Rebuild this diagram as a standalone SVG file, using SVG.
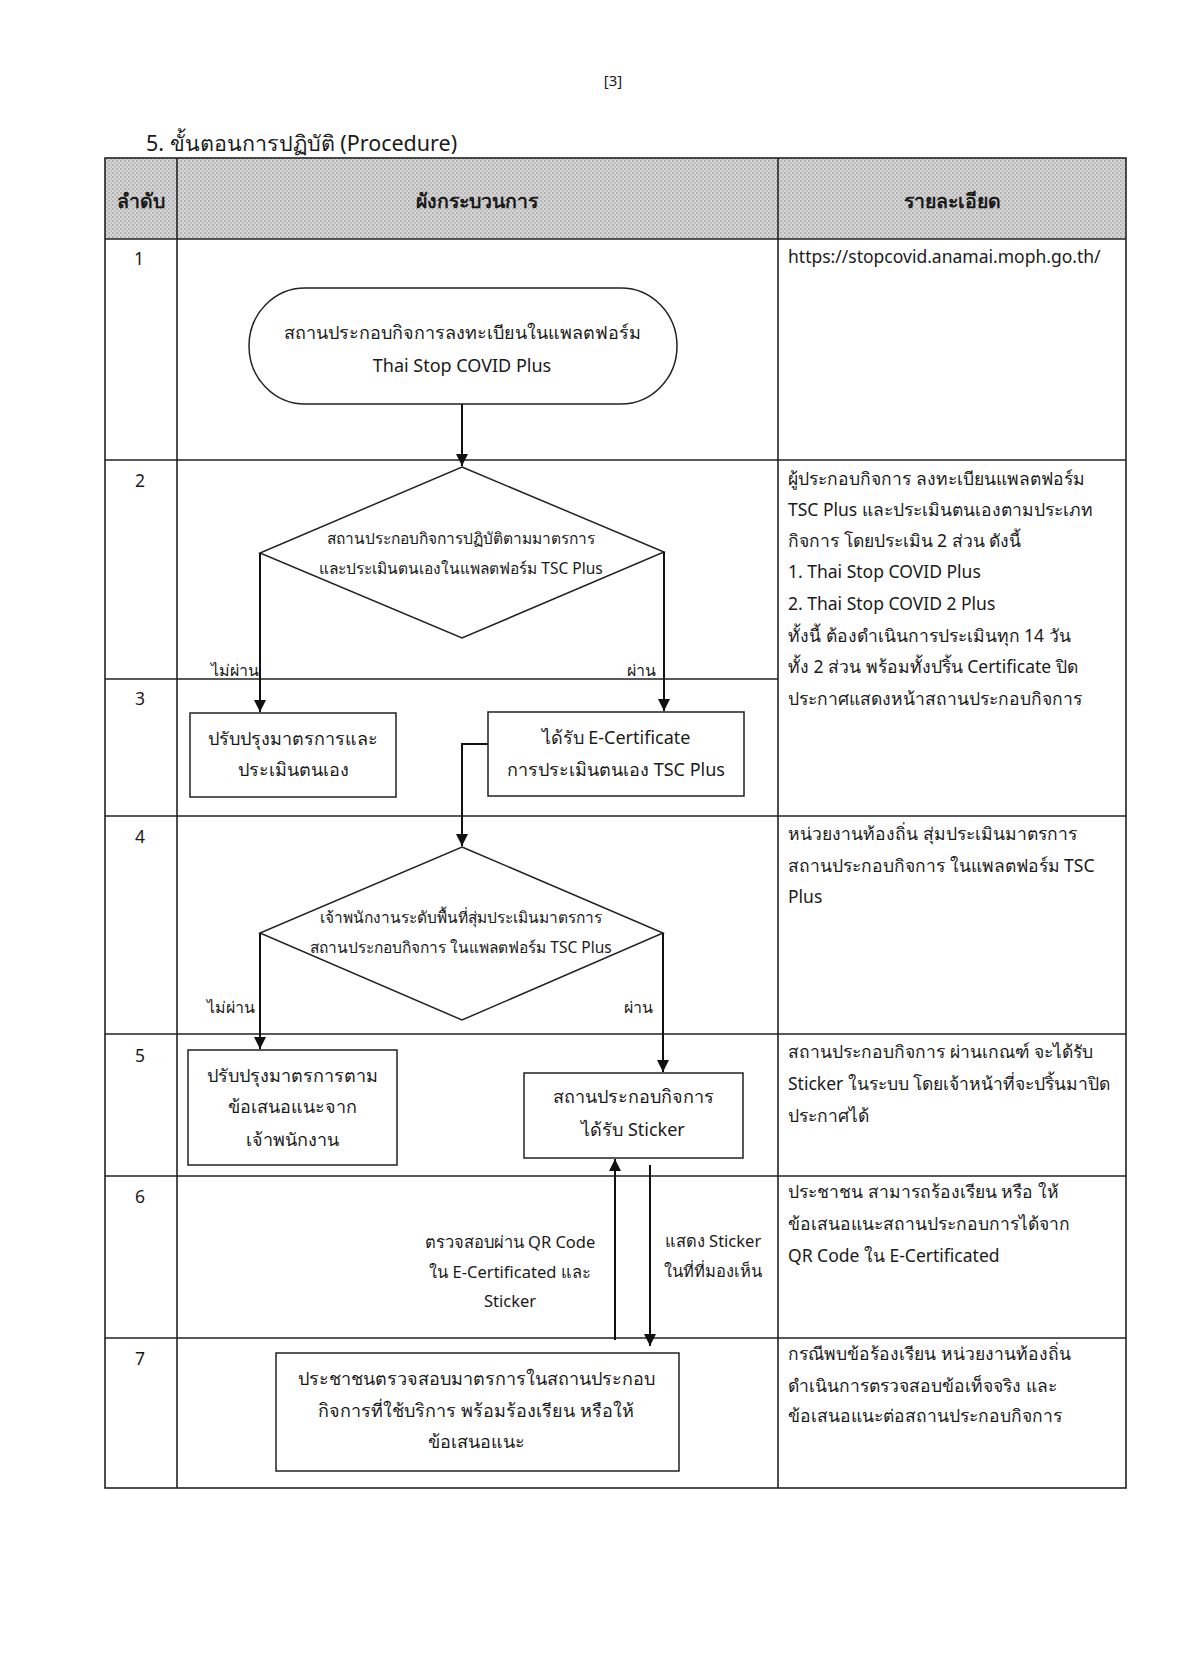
<svg xmlns="http://www.w3.org/2000/svg" width="1194" height="1678" viewBox="0 0 1194 1678">
<style>
text{font-family:"Noto Sans","DejaVu Sans",sans-serif;fill:#1a1a1a}
.t{font-size:17.5px}
.b{font-size:18px;text-anchor:middle}
.d{font-size:15.5px;text-anchor:middle}
.l{font-size:16px}
.lb{font-size:16.5px;text-anchor:middle}
.h{font-size:19.5px;font-weight:bold;text-anchor:middle}
.n{font-size:17.5px;text-anchor:middle}
.grid{stroke:#222;stroke-width:1.6;fill:none}
.shape{stroke:#222;stroke-width:1.5;fill:#fff}
.con{stroke:#111;stroke-width:2;fill:none}
</style>
<defs>
<pattern id="halftone" width="4" height="4" patternUnits="userSpaceOnUse">
<rect width="4" height="4" fill="#d6d6d6"/>
<rect width="2" height="2" fill="#b4b4b4"/>
<rect x="2" y="2" width="2" height="2" fill="#c0c0c0"/>
</pattern>
<marker id="arr" viewBox="0 0 10 10" refX="10" refY="5" markerWidth="6" markerHeight="6" orient="auto" markerUnits="strokeWidth">
<path d="M0,0 L10,5 L0,10 z" fill="#111"/>
</marker>
</defs>
<rect width="1194" height="1678" fill="#fff"/>
<text x="613" y="86" style="font-size:15px" text-anchor="middle">[3]</text>
<text x="146" y="151" style="font-size:21.5px">5. ขั้นตอนการปฏิบัติ (Procedure)</text>

<g id="table">
<rect x="105" y="158" width="1021" height="81" fill="url(#halftone)"/>
<rect x="105" y="158" width="1021" height="1330" class="grid"/>
<line x1="177" y1="158" x2="177" y2="1488" class="grid"/>
<line x1="778" y1="158" x2="778" y2="1488" class="grid"/>
<line x1="105" y1="239" x2="1126" y2="239" class="grid"/>
<line x1="105" y1="460" x2="1126" y2="460" class="grid"/>
<line x1="105" y1="679" x2="778" y2="679" class="grid"/>
<line x1="105" y1="816" x2="1126" y2="816" class="grid"/>
<line x1="105" y1="1034" x2="1126" y2="1034" class="grid"/>
<line x1="105" y1="1176" x2="1126" y2="1176" class="grid"/>
<line x1="105" y1="1338" x2="1126" y2="1338" class="grid"/>
<text x="141" y="208" class="h">ลำดับ</text>
<text x="477" y="208" class="h">ผังกระบวนการ</text>
<text x="952" y="208" class="h">รายละเอียด</text>
<text x="139" y="265" class="n">1</text>
<text x="140" y="487" class="n">2</text>
<text x="140" y="705" class="n">3</text>
<text x="140" y="843" class="n">4</text>
<text x="140" y="1062" class="n">5</text>
<text x="140" y="1203" class="n">6</text>
<text x="140" y="1365" class="n">7</text>
</g>

<g id="details">
<text x="788" y="263" class="t">https://stopcovid.anamai.moph.go.th/</text>
<text x="788" y="485" class="t">ผู้ประกอบกิจการ ลงทะเบียนแพลตฟอร์ม</text>
<text x="788" y="516" class="t">TSC Plus และประเมินตนเองตามประเภท</text>
<text x="788" y="547" class="t">กิจการ โดยประเมิน 2 ส่วน ดังนี้</text>
<text x="788" y="578" class="t">1. Thai Stop COVID Plus</text>
<text x="788" y="610" class="t">2. Thai Stop COVID 2 Plus</text>
<text x="788" y="642" class="t">ทั้งนี้ ต้องดำเนินการประเมินทุก 14 วัน</text>
<text x="788" y="673" class="t">ทั้ง 2 ส่วน พร้อมทั้งปริ้น Certificate ปิด</text>
<text x="788" y="705" class="t">ประกาศแสดงหน้าสถานประกอบกิจการ</text>
<text x="788" y="840" class="t">หน่วยงานท้องถิ่น สุ่มประเมินมาตรการ</text>
<text x="788" y="872" class="t">สถานประกอบกิจการ ในแพลตฟอร์ม TSC</text>
<text x="788" y="903" class="t">Plus</text>
<text x="788" y="1058" class="t">สถานประกอบกิจการ ผ่านเกณฑ์ จะได้รับ</text>
<text x="788" y="1090" class="t">Sticker ในระบบ โดยเจ้าหน้าที่จะปริ้นมาปิด</text>
<text x="788" y="1122" class="t">ประกาศได้</text>
<text x="788" y="1198" class="t">ประชาชน สามารถร้องเรียน หรือ ให้</text>
<text x="788" y="1230" class="t">ข้อเสนอแนะสถานประกอบการได้จาก</text>
<text x="788" y="1262" class="t">QR Code ใน E-Certificated</text>
<text x="788" y="1360" class="t">กรณีพบข้อร้องเรียน หน่วยงานท้องถิ่น</text>
<text x="788" y="1392" class="t">ดำเนินการตรวจสอบข้อเท็จจริง และ</text>
<text x="788" y="1422" class="t">ข้อเสนอแนะต่อสถานประกอบกิจการ</text>
</g>

<g id="n1_start">
<rect x="249" y="288" width="428" height="116" rx="56" ry="58" class="shape"/>
<text x="462" y="339" class="b">สถานประกอบกิจการลงทะเบียนในแพลตฟอร์ม</text>
<text x="462" y="372" class="b">Thai Stop COVID Plus</text>
</g>
<g id="n2_decision">
<polygon points="462,467 664,552 462,638 260,553" class="shape"/>
<text x="461" y="544" class="d">สถานประกอบกิจการปฏิบัติตามมาตรการ</text>
<text x="461" y="574" class="d">และประเมินตนเองในแพลตฟอร์ม TSC Plus</text>
</g>
<g id="n3_improve">
<rect x="190" y="713" width="206" height="84" class="shape"/>
<text x="293" y="745" class="b">ปรับปรุงมาตรการและ</text>
<text x="293" y="776" class="b">ประเมินตนเอง</text>
</g>
<g id="n3_cert">
<rect x="488" y="712" width="256" height="84" class="shape"/>
<text x="616" y="744" class="b">ได้รับ E-Certificate</text>
<text x="616" y="776" class="b">การประเมินตนเอง TSC Plus</text>
</g>
<g id="n4_decision">
<polygon points="462,847 663,933 462,1020 260,933" class="shape"/>
<text x="461" y="923" class="d">เจ้าพนักงานระดับพื้นที่สุ่มประเมินมาตรการ</text>
<text x="461" y="953" class="d">สถานประกอบกิจการ ในแพลตฟอร์ม TSC Plus</text>
</g>
<g id="n5_improve">
<rect x="188" y="1050" width="209" height="115" class="shape"/>
<text x="292" y="1082" class="b">ปรับปรุงมาตรการตาม</text>
<text x="292" y="1113" class="b">ข้อเสนอแนะจาก</text>
<text x="292" y="1146" class="b">เจ้าพนักงาน</text>
</g>
<g id="n5_sticker">
<rect x="524" y="1073" width="219" height="85" class="shape"/>
<text x="633" y="1103" class="b">สถานประกอบกิจการ</text>
<text x="633" y="1136" class="b">ได้รับ Sticker</text>
</g>
<g id="n7_public">
<rect x="276" y="1353" width="403" height="118" class="shape"/>
<text x="476" y="1385" class="b">ประชาชนตรวจสอบมาตรการในสถานประกอบ</text>
<text x="476" y="1417" class="b">กิจการที่ใช้บริการ พร้อมร้องเรียน หรือให้</text>
<text x="476" y="1448" class="b">ข้อเสนอแนะ</text>
</g>

<g id="connectors">
<line x1="462" y1="404" x2="462" y2="466" class="con" marker-end="url(#arr)"/>
<polyline points="260,553 260,712" class="con" marker-end="url(#arr)"/>
<polyline points="664,552 664,711" class="con" marker-end="url(#arr)"/>
<polyline points="488,744 462,744 462,846" class="con" marker-end="url(#arr)"/>
<polyline points="260,933 260,1049" class="con" marker-end="url(#arr)"/>
<polyline points="663,933 663,1072" class="con" marker-end="url(#arr)"/>
<line x1="615" y1="1340" x2="615" y2="1159" class="con" marker-end="url(#arr)"/>
<line x1="650" y1="1165" x2="650" y2="1346" class="con" marker-end="url(#arr)"/>
<text x="259" y="676" class="l" text-anchor="end">ไม่ผ่าน</text>
<text x="656" y="676" class="l" text-anchor="end">ผ่าน</text>
<text x="207" y="1013" class="l">ไม่ผ่าน</text>
<text x="624" y="1013" class="l">ผ่าน</text>
<text x="510" y="1248" class="lb">ตรวจสอบผ่าน QR Code</text>
<text x="510" y="1278" class="lb">ใน E-Certificated และ</text>
<text x="510" y="1307" class="lb">Sticker</text>
<text x="713" y="1247" class="lb">แสดง Sticker</text>
<text x="713" y="1277" class="lb">ในที่ที่มองเห็น</text>
</g>
</svg>
